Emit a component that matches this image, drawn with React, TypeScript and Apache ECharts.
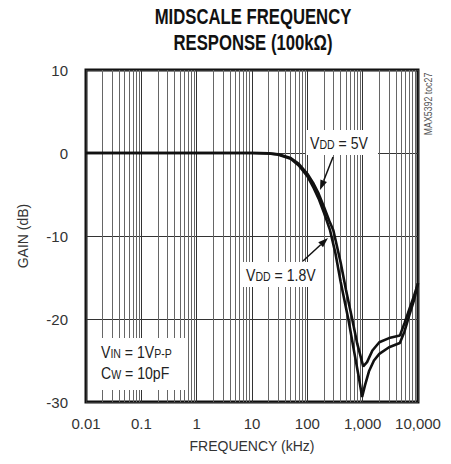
import React, { useEffect, useRef } from "react";
import * as echarts from "echarts";

const titleLines = ["MIDSCALE FREQUENCY", "RESPONSE (100kΩ)"];
const xTitle = "FREQUENCY (kHz)";
const yTitle = "GAIN (dB)";
const xMin = 0.01;
const xMax = 10000;
const yMin = -30;
const yMax = 10;
const yStep = 10;

// frequency (kHz) and gain (dB) — VDD = 1.8V (deeper notch)
const freqA = [0.01, 1, 10, 20, 30, 50, 70, 100, 130, 160, 200, 257, 320, 400, 550, 700, 850, 977, 1100, 1300, 1600, 2000, 3000, 4700, 5700, 7000, 8500, 10000];
const gainA = [0, 0, 0, -0.05, -0.2, -0.7, -1.5, -2.8, -4.2, -5.5, -7.2, -9.3, -12, -15.5, -20, -23.9, -27, -29.4, -28, -26.3, -25, -24.2, -23.4, -22.9, -21.5, -19.5, -17.7, -15.7];
// VDD = 5V (shallower notch)
const freqB = [0.01, 1, 10, 20, 30, 50, 70, 100, 130, 160, 200, 250, 295, 400, 500, 646, 800, 1023, 1200, 1500, 2000, 3000, 4700, 5700, 7000, 8500, 10000];
const gainB = [0, 0, 0, -0.05, -0.15, -0.6, -1.3, -2.5, -3.7, -4.9, -6.5, -8.2, -9.3, -13.2, -16.5, -20, -23, -25.7, -25.2, -23.8, -22.8, -22.3, -22, -20.5, -18.8, -17.2, -15.7];

const minorMultipliers = [2, 3, 4, 5, 6, 7, 8, 9];
const decades = [0.01, 0.1, 1, 10, 100, 1000];

const FONT = "Liberation Sans";

export default function App() {
  const ref = useRef<HTMLDivElement>(null);
  useEffect(() => {
    document.body.style.margin = "0";
    if (!ref.current) return;
    const chart = echarts.init(ref.current, undefined, { renderer: "svg" });
    const minorVals: number[] = [];
    decades.forEach((d) => minorMultipliers.forEach((m) => minorVals.push(+(d * m).toPrecision(3))));

    const richStyle = {
      a: { fontSize: 16, fontFamily: FONT, fill: "#222", lineHeight: 18, verticalAlign: "bottom" },
      b: { fontSize: 12, fontFamily: FONT, fill: "#222", lineHeight: 12, verticalAlign: "bottom" },
    };

    const arrow = (sx: number, sy: number, tx: number, ty: number) => {
      const dx = tx - sx, dy = ty - sy;
      const len = Math.sqrt(dx * dx + dy * dy);
      const ux = dx / len, uy = dy / len;
      const hl = 10, hw = 3.5;
      const bx = tx - hl * ux, by = ty - hl * uy;
      const nx = -uy, ny = ux;
      return [
        { type: "line", shape: { x1: sx, y1: sy, x2: bx, y2: by }, style: { stroke: "#111", lineWidth: 1.5 }, z: 10 },
        {
          type: "polygon",
          shape: { points: [[tx, ty], [bx + hw * nx, by + hw * ny], [bx - hw * nx, by - hw * ny]] },
          style: { fill: "#111" },
          z: 10,
        },
      ];
    };

    const label = (x: number, y: number, text: string) => ({
      type: "text",
      x,
      y,
      scaleX: 0.88,
      style: { text, rich: richStyle, verticalAlign: "middle" },
      z: 10,
    });

    const option: any = {
      animation: false,
      grid: { left: 86, right: 33, top: 70, bottom: 62, show: true, borderColor: "#111", borderWidth: 3, backgroundColor: "#fff" },
      xAxis: {
        type: "log",
        logBase: 10,
        min: xMin,
        max: xMax,
        name: xTitle,
        nameLocation: "middle",
        nameGap: 37,
        nameTextStyle: { fontFamily: FONT, fontSize: 14, color: "#333" },
        axisLine: { show: false },
        axisTick: { show: false },
        splitLine: { show: true, lineStyle: { color: "#333", width: 1 } },
        axisLabel: {
          fontFamily: FONT,
          fontSize: 15,
          color: "#333",
          margin: 14,
          formatter: (v: number) => Number(v.toPrecision(3)).toLocaleString("en-US", { maximumFractionDigits: 3 }),
        },
      },
      yAxis: {
        type: "value",
        min: yMin,
        max: yMax,
        interval: yStep,
        name: yTitle,
        nameLocation: "middle",
        nameGap: 56,
        nameRotate: 90,
        nameTextStyle: { fontFamily: FONT, fontSize: 14, color: "#333" },
        axisLine: { show: false },
        axisTick: { show: false },
        splitLine: { show: true, lineStyle: { color: "#333", width: 1 } },
        axisLabel: { fontFamily: FONT, fontSize: 15, color: "#333", margin: 18 },
      },
      series: [
        {
          name: "VDD = 1.8V",
          type: "line",
          data: freqA.map((f, i) => [f, gainA[i]]),
          showSymbol: false,
          lineStyle: { color: "#111", width: 2.6 },
          z: 3,
          markLine: {
            silent: true,
            z: 1,
            symbol: ["none", "none"],
            label: { show: false },
            lineStyle: { color: "#666", width: 1, type: "solid" },
            data: minorVals.map((v) => ({ xAxis: v })),
          },
        },
        {
          name: "VDD = 5V",
          type: "line",
          data: freqB.map((f, i) => [f, gainB[i]]),
          showSymbol: false,
          lineStyle: { color: "#111", width: 2.6 },
          z: 3,
        },
      ],
      graphic: [
        {
          type: "text",
          x: 253,
          y: 3,
          scaleX: 0.76,
          style: {
            text: titleLines.join("\n"),
            fontFamily: FONT,
            fontWeight: "bold",
            fontSize: 22,
            lineHeight: 26,
            fill: "#111",
            align: "center",
            verticalAlign: "top",
          },
          z: 10,
        },
        { type: "rect", shape: { x: 306, y: 130, width: 72, height: 25 }, style: { fill: "#fff" }, z: 9 },
        label(310, 142, "{a|V}{b|DD}{a| = 5V}"),
        ...arrow(333, 157, 320, 190),
        { type: "rect", shape: { x: 242, y: 262, width: 78, height: 25 }, style: { fill: "#fff" }, z: 9 },
        label(246, 274, "{a|V}{b|DD}{a| = 1.8V}"),
        ...arrow(303, 261, 328, 238),
        { type: "rect", shape: { x: 97, y: 338, width: 90, height: 52 }, style: { fill: "#fff" }, z: 9 },
        label(101, 351, "{a|V}{b|IN}{a| = 1V}{b|P-P}"),
        label(101, 372, "{a|C}{b|W}{a| = 10pF}"),
        {
          type: "text",
          x: 428,
          y: 104,
          rotation: Math.PI / 2,
          scaleX: 0.88,
          style: { text: "MAX5392 toc27", fontFamily: FONT, fontSize: 10, fill: "#555", align: "center", verticalAlign: "middle" },
          z: 10,
        },
      ],
    };
    chart.setOption(option);
    return () => chart.dispose();
  }, []);
  return <div ref={ref} style={{ width: 451, height: 464 }} />;
}
